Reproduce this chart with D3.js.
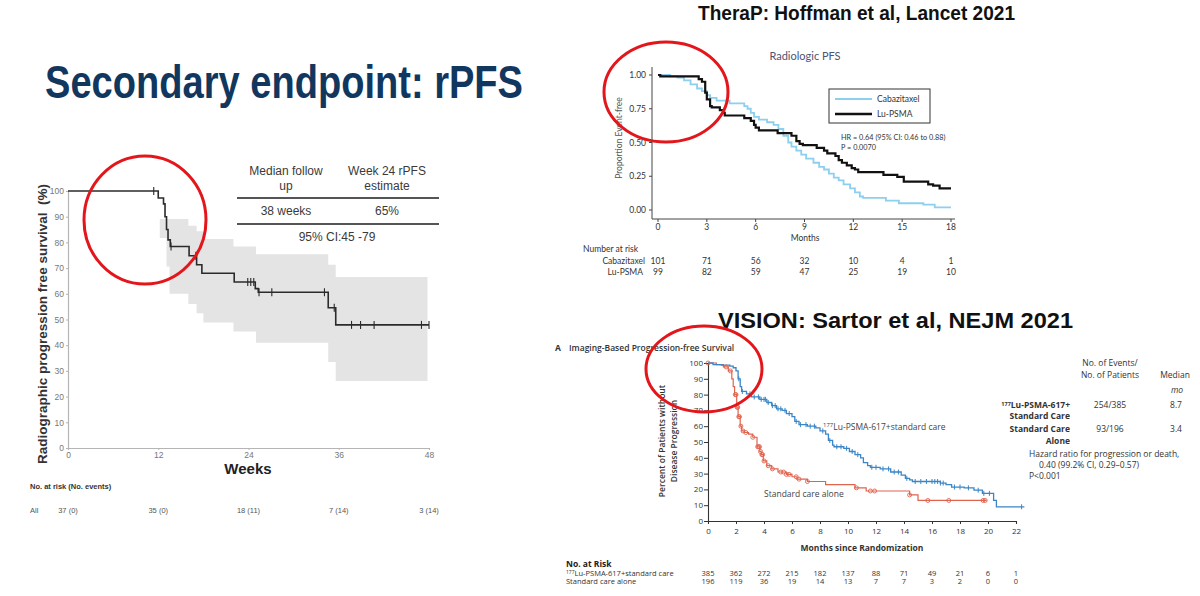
<!DOCTYPE html>
<html>
<head>
<meta charset="utf-8">
<script src="https://cdn.jsdelivr.net/npm/d3@7"></script>
<style>
  body { margin: 0; background: #fff; }
  svg { display: block; }
</style>
</head>
<body>
<svg id="slide" width="1200" height="596"></svg>
<script>
// ---------- data: left chart (single arm, weeks) ----------
var leftCurve = [[0, 100], [12.0, 97.3], [12.7, 95], [12.9, 90], [13.1, 85], [13.3, 81], [13.6, 78.4],
  [16.1, 74.8], [17.1, 71.3], [17.8, 68], [22.1, 64.6], [24.9, 62], [25.3, 60.6], [34.6, 54.6],
  [35.6, 47.9], [48, 47.9]];
var leftCensor = [11.4, 13.7, 17.0, 23.9, 24.3, 24.7, 25.4, 27.1, 34.1, 35.4, 37.7, 38.9, 40.7, 47.0, 48];
var leftCiTimes = [12.2, 13.1, 13.5, 16.0, 17.1, 18.0, 22.0, 25.0, 34.6, 35.6, 47.8];
var leftCiUpper = [89.1, 89.1, 89.1, 86.5, 84.3, 81.3, 78.4, 75.4, 71.3, 66.5, 66.5];
var leftCiLower = [81.7, 70.6, 60, 56, 52.4, 48.8, 45.3, 41, 33.5, 26.1, 26.1];
var leftWeekTicks = [0, 12, 24, 36, 48];
var leftRisk = ["37 (0)", "35 (0)", "18 (11)", "7 (14)", "3 (14)"];

// ---------- data: TheraP (months) ----------
var therapLu = [[0, 1], [0.14, 0.99], [2.5, 0.97], [2.7, 0.95], [2.9, 0.87], [3.0, 0.82], [3.2, 0.77],
  [3.3, 0.76], [3.8, 0.74], [4.0, 0.72], [4.1, 0.70], [5.3, 0.68], [5.7, 0.66], [5.9, 0.63], [6.0, 0.61],
  [6.2, 0.59], [7.35, 0.57], [8.2, 0.55], [8.5, 0.51], [8.7, 0.49], [8.9, 0.48], [9.75, 0.46], [10.2, 0.44],
  [10.4, 0.42], [10.9, 0.40], [11.1, 0.37], [11.3, 0.35], [11.6, 0.33], [11.9, 0.31], [12.1, 0.30],
  [12.3, 0.28], [13.85, 0.26], [14.7, 0.245], [15.1, 0.21], [16.6, 0.19], [16.9, 0.18], [17.3, 0.16], [18.0, 0.16]];
var therapCaba = [[0, 1], [0.75, 0.99], [1.2, 0.98], [1.6, 0.96], [2.0, 0.93], [2.4, 0.90], [2.7, 0.88],
  [3.0, 0.85], [3.2, 0.83], [3.6, 0.81], [4.4, 0.79], [5.3, 0.77], [5.5, 0.75], [5.7, 0.72], [5.9, 0.69],
  [6.2, 0.67], [6.7, 0.65], [7.1, 0.63], [7.4, 0.60], [7.7, 0.55], [8.0, 0.50], [8.2, 0.47], [8.5, 0.44],
  [8.8, 0.41], [9.1, 0.38], [9.55, 0.35], [9.9, 0.32], [10.2, 0.30], [10.5, 0.27], [10.8, 0.24], [11.1, 0.22],
  [11.4, 0.19], [11.8, 0.16], [12.1, 0.13], [12.4, 0.10], [12.6, 0.09], [14.0, 0.07], [14.8, 0.05],
  [16.3, 0.04], [17.0, 0.02], [18.0, 0.02]];
var therapMonthTicks = [0, 3, 6, 9, 12, 15, 18];
var therapYTicks = [0, 0.25, 0.5, 0.75, 1];
var therapRiskCaba = [101, 71, 56, 32, 10, 4, 1];
var therapRiskLu = [99, 82, 59, 47, 25, 19, 10];

// ---------- data: VISION (months) ----------
var visionLu = [[0, 100], [0.36, 99], [0.96, 98.7], [1.56, 98], [1.8, 97], [2.0, 95], [2.15, 90], [2.3, 85],
  [2.4, 82], [2.75, 80.5], [3.1, 78.5], [3.7, 77], [4.2, 75], [4.55, 73], [4.9, 71], [5.3, 70], [5.6, 68],
  [6.0, 66], [6.2, 63], [6.5, 61], [7.1, 60], [7.7, 59], [8.0, 57], [8.4, 55], [8.6, 51], [8.9, 48], [9.0, 47],
  [9.7, 46], [10.1, 44], [10.5, 42], [10.9, 40], [11.1, 37], [11.4, 35], [11.6, 34], [12.3, 33], [13.05, 31],
  [13.8, 29], [14.1, 27], [14.4, 26], [14.6, 25], [16.6, 24], [17.0, 23], [17.4, 21.5], [18.3, 21],
  [19.0, 19.5], [19.6, 17.5], [20.4, 13], [20.6, 9], [22.6, 9]];
var visionSoc = [[0, 100], [0.6, 99], [1.1, 97.5], [1.45, 95], [1.7, 90], [1.8, 85], [1.9, 80], [2.05, 72],
  [2.15, 66], [2.3, 60], [2.4, 57], [2.6, 56], [2.9, 55], [3.2, 53], [3.5, 47], [3.7, 44], [3.8, 42],
  [3.95, 38], [4.2, 35], [4.55, 33], [5.0, 31], [5.6, 29.5], [6.0, 28], [6.35, 26.5], [7.1, 25], [8.4, 23],
  [10.5, 21], [11.3, 19], [14.4, 16.5], [15.0, 13], [19.9, 13]];
var visionLuCensor = [2.2, 2.45, 3.0, 3.3, 3.6, 3.8, 4.0, 4.1, 4.3, 4.6, 4.8, 5.0, 5.2, 5.5, 5.8, 6.3, 6.6,
  7.0, 7.3, 7.6, 8.2, 8.7, 9.2, 9.5, 9.9, 10.3, 10.7, 11.7, 12.0, 12.5, 12.9, 13.3, 13.6, 14.2, 14.8, 15.2,
  15.6, 16.0, 16.2, 16.4, 16.6, 16.8, 17.6, 18.0, 18.6, 19.3, 19.7, 20.1, 22.4];
var visionSocCensor = [0, 1.3, 1.6, 1.95, 2.0, 2.08, 2.12, 2.2, 2.25, 2.35, 2.5, 2.7, 3.2, 3.55, 3.62, 3.68,
  3.75, 3.85, 3.9, 4.0, 4.3, 4.6, 5.2, 5.4, 5.6, 5.8, 6.3, 6.5, 7.1, 10.6, 11.6, 11.9, 14.4, 15.7, 17.2,
  19.65, 19.8];
var visionMonthTicks = d3.range(0, 23, 2);
var visionYTicks = d3.range(0, 101, 10);
var visionRiskLu = [385, 362, 272, 215, 182, 137, 88, 71, 49, 21, 6, 1];
var visionRiskSoc = [196, 119, 36, 19, 14, 13, 7, 7, 3, 2, 0, 0];

// ---------- helpers ----------
function survAt(curve, t) {
  var s = curve[0][1];
  curve.forEach(function(d) { if (d[0] <= t) s = d[1]; });
  return s;
}

function stepLine(x, y) {
  return d3.line()
    .x(function(d) { return x(d[0]); })
    .y(function(d) { return y(d[1]); })
    .curve(d3.curveStepAfter);
}

var svg = d3.select("#slide");
svg.append("rect").attr("width", 1200).attr("height", 596).attr("fill", "#fff");

var ARIAL = "Liberation Sans, Arial, sans-serif";
var CALIBRI = "Lato, Open Sans, sans-serif";
var NEJM = "Open Sans, Noto Sans, sans-serif";

// ---------- slide title ----------
svg.append("text")
  .attr("x", 45).attr("y", 98)
  .attr("textLength", 478).attr("lengthAdjust", "spacingAndGlyphs")
  .attr("fill", "#12375f")
  .style("font-family", ARIAL).style("font-size", "46px").style("font-weight", "700")
  .text("Secondary endpoint: rPFS");

// ================= left chart =================
var xL = d3.scaleLinear().domain([0, 48]).range([68, 429]);
var yL = d3.scaleLinear().domain([0, 100]).range([448, 191]);
var left = svg.append("g").style("font-family", ARIAL);

left.append("path")
  .attr("d", d3.area()
    .x(function(d, i) { return xL(leftCiTimes[i]); })
    .y0(function(d, i) { return yL(leftCiLower[i]); })
    .y1(function(d, i) { return yL(leftCiUpper[i]); })
    .curve(d3.curveStepAfter)(leftCiTimes))
  .attr("fill", "#e3e4e3");

var axL = left.append("g").attr("transform", "translate(68,0)")
  .call(d3.axisLeft(yL).tickValues(d3.range(0, 101, 10)).tickSize(2).tickPadding(2));
var axB = left.append("g").attr("transform", "translate(0,448)")
  .call(d3.axisBottom(xL).tickValues(leftWeekTicks).tickSize(2).tickPadding(2));
[axL, axB].forEach(function(a) {
  a.select(".domain").attr("stroke", "#b5b5b5").attr("stroke-width", 1.2);
  a.selectAll(".tick line").attr("stroke", "#b5b5b5");
  a.selectAll(".tick text").attr("fill", "#777").style("font-size", "8.5px").style("font-family", ARIAL);
});

left.append("path")
  .attr("d", stepLine(xL, yL)(leftCurve))
  .attr("fill", "none").attr("stroke", "#2b2b2b").attr("stroke-width", 1.6);

left.selectAll(".lc").data(leftCensor).enter().append("line")
  .attr("x1", function(d) { return xL(d); }).attr("x2", function(d) { return xL(d); })
  .attr("y1", function(d) { return yL(survAt(leftCurve, d)) - 4; })
  .attr("y2", function(d) { return yL(survAt(leftCurve, d)) + 4; })
  .attr("stroke", "#2b2b2b").attr("stroke-width", 1.1);

left.append("text")
  .attr("transform", "translate(47,324) rotate(-90)")
  .attr("text-anchor", "middle").attr("fill", "#333")
  .style("font-size", "13.5px").style("font-weight", "700")
  .attr("xml:space", "preserve")
  .text("Radiographic progression free survival  (%)");

left.append("text")
  .attr("x", 248).attr("y", 474).attr("text-anchor", "middle").attr("fill", "#222")
  .style("font-size", "15px").style("font-weight", "700")
  .text("Weeks");

left.append("text")
  .attr("x", 30).attr("y", 489).attr("fill", "#333")
  .style("font-size", "7.5px").style("font-weight", "700")
  .text("No. at risk (No. events)");
left.append("text")
  .attr("x", 30).attr("y", 513).attr("fill", "#555").style("font-size", "7.5px").text("All");
left.selectAll(".lr").data(leftRisk).enter().append("text")
  .attr("x", function(d, i) { return xL(leftWeekTicks[i]); })
  .attr("y", 513).attr("text-anchor", "middle").attr("fill", "#555")
  .style("font-size", "7.5px")
  .text(function(d) { return d; });

// summary table
var tbl = left.append("g").attr("fill", "#3a3a3a").style("font-size", "12px");
tbl.append("text").attr("x", 286).attr("y", 175).attr("text-anchor", "middle").text("Median follow");
tbl.append("text").attr("x", 286).attr("y", 190).attr("text-anchor", "middle").text("up");
tbl.append("text").attr("x", 387).attr("y", 175).attr("text-anchor", "middle").text("Week 24 rPFS");
tbl.append("text").attr("x", 387).attr("y", 190).attr("text-anchor", "middle").text("estimate");
tbl.append("line").attr("x1", 237).attr("x2", 439).attr("y1", 198).attr("y2", 198)
  .attr("stroke", "#555").attr("stroke-width", 2);
tbl.append("text").attr("x", 286).attr("y", 215).attr("text-anchor", "middle").text("38 weeks");
tbl.append("text").attr("x", 387).attr("y", 215).attr("text-anchor", "middle").text("65%");
tbl.append("line").attr("x1", 237).attr("x2", 439).attr("y1", 224).attr("y2", 224)
  .attr("stroke", "#555").attr("stroke-width", 2);
tbl.append("text").attr("x", 337).attr("y", 241).attr("text-anchor", "middle").text("95% CI:45 -79");

// ================= TheraP =================
svg.append("text")
  .attr("x", 698).attr("y", 20)
  .attr("textLength", 317).attr("lengthAdjust", "spacingAndGlyphs")
  .attr("fill", "#111")
  .style("font-family", ARIAL).style("font-size", "21px").style("font-weight", "700")
  .text("TheraP: Hoffman et al, Lancet 2021");

var xT = d3.scaleLinear().domain([0, 18]).range([658, 951]);
var yT = d3.scaleLinear().domain([0, 1]).range([210, 75]);
var ther = svg.append("g").style("font-family", CALIBRI);

ther.append("text").attr("x", 805).attr("y", 60).attr("text-anchor", "middle")
  .attr("fill", "#4d5370").style("font-size", "11px").text("Radiologic PFS");

ther.append("line").attr("x1", 652).attr("x2", 652).attr("y1", 67).attr("y2", 219)
  .attr("stroke", "#444").attr("stroke-width", 1);
ther.append("line").attr("x1", 652).attr("x2", 955).attr("y1", 219).attr("y2", 219)
  .attr("stroke", "#444").attr("stroke-width", 1);

ther.selectAll(".ty").data(therapYTicks).enter().append("g")
  .each(function(d) {
    var g = d3.select(this);
    g.append("line").attr("x1", 649).attr("x2", 652).attr("y1", yT(d)).attr("y2", yT(d)).attr("stroke", "#444");
    g.append("text").attr("x", 646).attr("y", yT(d) + 3).attr("text-anchor", "end")
      .attr("fill", "#333").style("font-size", "8.5px").text(d3.format(".2f")(d));
  });
ther.selectAll(".tx").data(therapMonthTicks).enter().append("g")
  .each(function(d) {
    var g = d3.select(this);
    g.append("line").attr("x1", xT(d)).attr("x2", xT(d)).attr("y1", 219).attr("y2", 222).attr("stroke", "#444");
    g.append("text").attr("x", xT(d)).attr("y", 230).attr("text-anchor", "middle")
      .attr("fill", "#333").style("font-size", "8.5px").text(d);
  });
ther.append("text").attr("x", 805).attr("y", 241).attr("text-anchor", "middle")
  .attr("fill", "#333").style("font-size", "8.5px").text("Months");
ther.append("text").attr("transform", "translate(622,138) rotate(-90)").attr("text-anchor", "middle")
  .attr("fill", "#555").style("font-size", "8.5px").text("Proportion Event-free");

ther.append("path").attr("d", stepLine(xT, yT)(therapCaba))
  .attr("fill", "none").attr("stroke", "#8dcfee").attr("stroke-width", 1.8);
ther.append("path").attr("d", stepLine(xT, yT)(therapLu))
  .attr("fill", "none").attr("stroke", "#111").attr("stroke-width", 2.2);

// legend
ther.append("rect").attr("x", 829).attr("y", 89).attr("width", 101).attr("height", 34)
  .attr("fill", "#fff").attr("stroke", "#333").attr("stroke-width", 1);
ther.append("line").attr("x1", 835).attr("x2", 872).attr("y1", 99).attr("y2", 99)
  .attr("stroke", "#8dcfee").attr("stroke-width", 2);
ther.append("line").attr("x1", 835).attr("x2", 872).attr("y1", 114).attr("y2", 114)
  .attr("stroke", "#111").attr("stroke-width", 2.4);
ther.append("text").attr("x", 877).attr("y", 102).attr("fill", "#333").style("font-size", "8.5px").text("Cabazitaxel");
ther.append("text").attr("x", 877).attr("y", 117).attr("fill", "#333").style("font-size", "8.5px").text("Lu-PSMA");
ther.append("text").attr("x", 841).attr("y", 140).attr("fill", "#333").style("font-size", "7.3px")
  .text("HR = 0.64 (95% CI: 0.46 to 0.88)");
ther.append("text").attr("x", 841).attr("y", 150).attr("fill", "#333").style("font-size", "7.3px")
  .text("P = 0.0070");

// risk table
ther.append("text").attr("x", 583).attr("y", 252).attr("fill", "#333").style("font-size", "8.5px").text("Number at risk");
ther.append("text").attr("x", 645).attr("y", 264).attr("text-anchor", "end").attr("fill", "#333")
  .style("font-size", "8.5px").text("Cabazitaxel");
ther.append("text").attr("x", 643).attr("y", 275).attr("text-anchor", "end").attr("fill", "#333")
  .style("font-size", "8.5px").text("Lu-PSMA");
[[therapRiskCaba, 264], [therapRiskLu, 275]].forEach(function(row) {
  ther.selectAll(null).data(row[0]).enter().append("text")
    .attr("x", function(d, i) { return xT(therapMonthTicks[i]); })
    .attr("y", row[1]).attr("text-anchor", "middle").attr("fill", "#333")
    .style("font-size", "8.5px").text(function(d) { return d; });
});

// ================= VISION =================
svg.append("text")
  .attr("x", 718).attr("y", 328)
  .attr("textLength", 355).attr("lengthAdjust", "spacingAndGlyphs")
  .attr("fill", "#111")
  .style("font-family", ARIAL).style("font-size", "22px").style("font-weight", "700")
  .text("VISION: Sartor et al, NEJM 2021");

var xV = d3.scaleLinear().domain([0, 22]).range([708, 1016]);
var yV = d3.scaleLinear().domain([0, 100]).range([521, 363]);
var vis = svg.append("g").style("font-family", NEJM);

vis.append("text").attr("x", 555).attr("y", 351).attr("fill", "#333")
  .style("font-size", "8.5px").style("font-weight", "700").text("A");
vis.append("text").attr("x", 569).attr("y", 351).attr("fill", "#333")
  .style("font-size", "8.5px").style("font-weight", "600").text("Imaging-Based Progression-free Survival");

var avY = vis.append("g").attr("transform", "translate(708,0)")
  .call(d3.axisLeft(yV).tickValues(visionYTicks).tickSize(4).tickPadding(1));
var avX = vis.append("g").attr("transform", "translate(0,521)")
  .call(d3.axisBottom(xV).tickValues(visionMonthTicks).tickSize(3).tickPadding(4));
[avY, avX].forEach(function(a) {
  a.select(".domain").attr("stroke", "#333").attr("stroke-width", 1.1);
  a.selectAll(".tick line").attr("stroke", "#333");
  a.selectAll(".tick text").attr("fill", "#333").style("font-size", "8px").style("font-family", NEJM);
});

vis.append("text").attr("transform", "translate(665,441) rotate(-90)").attr("text-anchor", "middle")
  .attr("fill", "#333").style("font-size", "8.5px").style("font-weight", "600").text("Percent of Patients without");
vis.append("text").attr("transform", "translate(677,441) rotate(-90)").attr("text-anchor", "middle")
  .attr("fill", "#333").style("font-size", "8.5px").style("font-weight", "600").text("Disease Progression");
vis.append("text").attr("x", 862).attr("y", 551).attr("text-anchor", "middle")
  .attr("fill", "#333").style("font-size", "8.5px").style("font-weight", "700").text("Months since Randomization");

var blue = "#3a86c6", red = "#e0634e";
vis.append("path").attr("d", stepLine(xV, yV)(visionSoc))
  .attr("fill", "none").attr("stroke", red).attr("stroke-width", 1.2);
vis.append("path").attr("d", stepLine(xV, yV)(visionLu))
  .attr("fill", "none").attr("stroke", blue).attr("stroke-width", 1.3);

vis.selectAll(".bc").data(visionLuCensor).enter().append("line")
  .attr("x1", function(d) { return xV(d); }).attr("x2", function(d) { return xV(d); })
  .attr("y1", function(d) { return yV(survAt(visionLu, d)) - 2.5; })
  .attr("y2", function(d) { return yV(survAt(visionLu, d)) + 2.5; })
  .attr("stroke", blue).attr("stroke-width", 1);
vis.selectAll(".rc").data(visionSocCensor).enter().append("circle")
  .attr("cx", function(d) { return xV(d); })
  .attr("cy", function(d) { return yV(survAt(visionSoc, d)); })
  .attr("r", 2).attr("fill", "none").attr("stroke", red).attr("stroke-width", 0.9);

var luLab = vis.append("text").attr("x", 823).attr("y", 430).attr("fill", "#444").style("font-size", "8.5px");
luLab.append("tspan").attr("dy", -3).style("font-size", "6px").text("177");
luLab.append("tspan").attr("dy", 3).text("Lu-PSMA-617+standard care");
vis.append("text").attr("x", 764).attr("y", 497).attr("fill", "#444").style("font-size", "8.5px").text("Standard care alone");

// risk table
vis.append("text").attr("x", 566).attr("y", 567).attr("fill", "#222")
  .style("font-size", "8.5px").style("font-weight", "700").text("No. at Risk");
var r1 = vis.append("text").attr("x", 566).attr("y", 576).attr("fill", "#333").style("font-size", "7.5px");
r1.append("tspan").attr("dy", -2.5).style("font-size", "5px").text("177");
r1.append("tspan").attr("dy", 2.5).text("Lu-PSMA-617+standard care");
vis.append("text").attr("x", 566).attr("y", 584).attr("fill", "#333").style("font-size", "7.5px").text("Standard care alone");
[[visionRiskLu, 576], [visionRiskSoc, 584]].forEach(function(row) {
  vis.selectAll(null).data(row[0]).enter().append("text")
    .attr("x", function(d, i) { return xV(visionMonthTicks[i]); })
    .attr("y", row[1]).attr("text-anchor", "middle").attr("fill", "#333")
    .style("font-size", "7.5px").text(function(d) { return d; });
});

// side table
var side = vis.append("g").attr("fill", "#333").style("font-size", "8.5px");
side.append("text").attr("x", 1110).attr("y", 366).attr("text-anchor", "middle").text("No. of Events/");
side.append("text").attr("x", 1110).attr("y", 378).attr("text-anchor", "middle").text("No. of Patients");
side.append("text").attr("x", 1175).attr("y", 378).attr("text-anchor", "middle").text("Median");
side.append("text").attr("x", 1177).attr("y", 393).attr("text-anchor", "middle").style("font-style", "italic").text("mo");
var s1 = side.append("text").attr("x", 1070).attr("y", 408).attr("text-anchor", "end").style("font-weight", "700");
s1.append("tspan").attr("dy", -2.5).style("font-size", "5.5px").text("177");
s1.append("tspan").attr("dy", 2.5).text("Lu-PSMA-617+");
side.append("text").attr("x", 1070).attr("y", 419).attr("text-anchor", "end").style("font-weight", "700").text("Standard Care");
side.append("text").attr("x", 1110).attr("y", 408).attr("text-anchor", "middle").text("254/385");
side.append("text").attr("x", 1176).attr("y", 408).attr("text-anchor", "middle").text("8.7");
side.append("text").attr("x", 1070).attr("y", 432).attr("text-anchor", "end").style("font-weight", "700").text("Standard Care");
side.append("text").attr("x", 1070).attr("y", 444).attr("text-anchor", "end").style("font-weight", "700").text("Alone");
side.append("text").attr("x", 1110).attr("y", 432).attr("text-anchor", "middle").text("93/196");
side.append("text").attr("x", 1176).attr("y", 432).attr("text-anchor", "middle").text("3.4");
side.append("text").attr("x", 1029).attr("y", 457).text("Hazard ratio for progression or death,");
side.append("text").attr("x", 1039).attr("y", 468).text("0.40 (99.2% CI, 0.29\u20130.57)");
side.append("text").attr("x", 1029).attr("y", 479).text("P<0.001");

// ================= red highlight circles =================
var rings = [[145, 220, 61, 64], [666, 92, 62, 50], [704, 369, 58, 43]];
svg.selectAll(".ring").data(rings).enter().append("ellipse")
  .attr("cx", function(d) { return d[0]; }).attr("cy", function(d) { return d[1]; })
  .attr("rx", function(d) { return d[2]; }).attr("ry", function(d) { return d[3]; })
  .attr("fill", "none").attr("stroke", "#e3161b").attr("stroke-width", 3);
</script>
</body>
</html>
